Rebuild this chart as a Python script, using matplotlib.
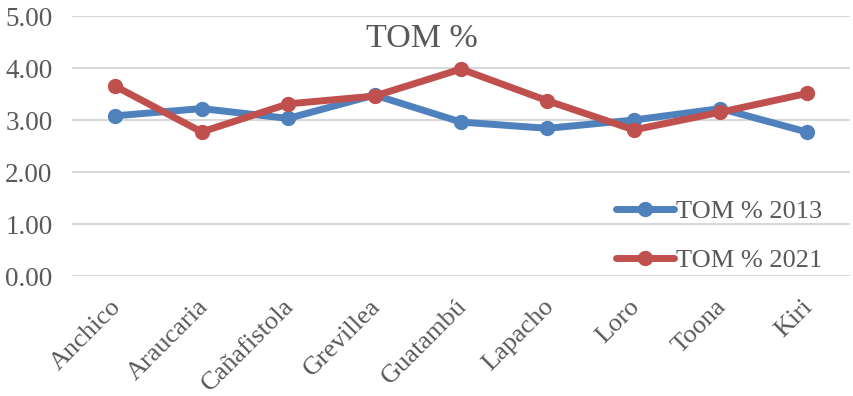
import matplotlib
matplotlib.use("Agg")
import matplotlib.pyplot as plt
from matplotlib.transforms import ScaledTranslation

categories = ["Anchico", "Araucaria", "Cañafistola", "Grevillea", "Guatambú",
              "Lapacho", "Loro", "Toona", "Kiri"]
tom_2013 = [3.08, 3.22, 3.03, 3.48, 2.96, 2.84, 3.00, 3.22, 2.77]
tom_2021 = [3.65, 2.77, 3.31, 3.46, 3.98, 3.37, 2.81, 3.15, 3.51]
yticks = [0, 1, 2, 3, 4, 5]

plt.rcParams['font.family'] = ['Liberation Serif', 'DejaVu Serif']

fig = plt.figure(figsize=(8.54, 3.96), dpi=100)
ax = fig.add_axes([72/854, 1-276/396, (850-72)/854, 260/396])

x = list(range(len(categories)))
ax.plot(x, tom_2013, color="#4F81BD", lw=5, marker="o", ms=10, label="TOM % 2013",
        solid_capstyle="round", zorder=3)
ax.plot(x, tom_2021, color="#C0504D", lw=5, marker="o", ms=10, label="TOM % 2021",
        solid_capstyle="round", zorder=4)

ax.set_xlim(-0.5, len(categories)-0.5)
ax.set_ylim(0, 5)
ax.set_yticks(yticks)
ax.set_yticklabels([f"{v:.2f}" for v in yticks])
ax.yaxis.grid(True, color="#D9D9D9", lw=1.5)
ax.set_axisbelow(True)
for s in ax.spines.values():
    s.set_visible(False)
ax.tick_params(axis="both", length=0, labelsize=19.5, colors="#595959")
ax.tick_params(axis="y", pad=14)
ax.tick_params(axis="x", pad=14, labelsize=19)
ax.set_xticks(x)
ax.set_xticklabels(categories, rotation=45, ha="right", rotation_mode="anchor")
off = ScaledTranslation(-0.05, 0.0, fig.dpi_scale_trans)
for lab in ax.get_xticklabels():
    lab.set_transform(lab.get_transform() + off)

fig.text(422/854, 1-39/396, "TOM %", fontsize=24.5, color="#595959",
         ha="center", va="center")

leg = ax.legend(loc="lower right", bbox_to_anchor=(0.985, -0.045), frameon=False,
                fontsize=19, labelcolor="#595959", handlelength=2.2,
                handletextpad=0.1, labelspacing=0.95, borderaxespad=0.2)

fig.savefig("out.png", dpi=100)
